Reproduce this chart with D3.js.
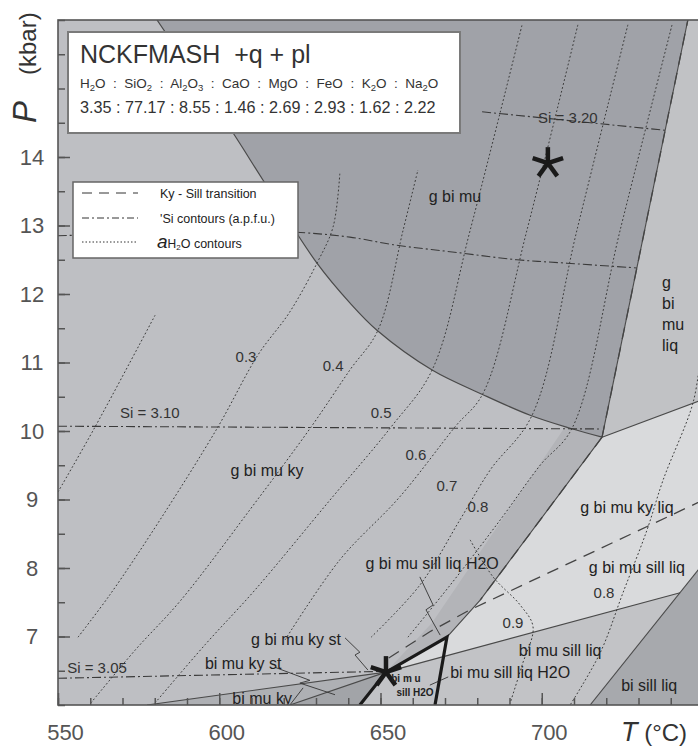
<!DOCTYPE html>
<html>
<head>
<meta charset="utf-8">
<script src="https://cdn.jsdelivr.net/npm/d3@7"></script>
<style>
  body { margin: 0; background: #fff; }
  svg { display: block; font-family: "Liberation Sans", Arial, sans-serif; }
</style>
</head>
<body>
<script>
// axis ticks
const tTicks = [550, 600, 650, 700];
const pTicks = [7, 8, 9, 10, 11, 12, 13, 14];

// bulk composition (mol %)
const oxides = ["H2O", "SiO2", "Al2O3", "CaO", "MgO", "FeO", "K2O", "Na2O"];
const oxideValues = ["3.35", "77.17", "8.55", "1.46", "2.69", "2.93", "1.62", "2.22"];

// field boundaries, [T (°C), P (kbar)]
const arcGBiMu = [[580.7, 16.0], [604.3, 14.35], [613.6, 13.66], [630.3, 12.45], [640.5, 11.87],
  [648.9, 11.47], [666.0, 10.89], [681.8, 10.53], [696.4, 10.23], [708.8, 10.04], [718.7, 9.91]];
const solidusTop = [745.3, 16.0];
const fieldBase = [[550, 6], [750, 6], [750, 16], [550, 16]];
const fieldGBiMuLiq = [[745.3, 16.0], [718.7, 9.91], [746.9, 10.41], [750, 10.46], [750, 16.0]];
const fieldLiqLight = [[718.7, 9.91], [750, 10.46], [750, 8.06], [742.9, 7.64], [651.7, 6.48], [670.6, 6.99], [680.9, 7.53]];
const fieldSillH2O = [[707.2, 10.06], [718.7, 9.91], [680.9, 7.53], [670.6, 6.99], [651.7, 6.48], [666.0, 7.20]];
const fieldBiMuSill = [[651.7, 6.48], [742.9, 7.64], [715.0, 6.0], [643.6, 6.0]];
const fieldBiSillLiq = [[715.0, 6.0], [742.9, 7.64], [750, 8.06], [750, 6.0]];
const fieldBiMuKy = [[577.6, 6.0], [651.7, 6.48], [643.6, 6.0]];
const fieldBiMuKySt = [[621.9, 6.0], [651.7, 6.48], [643.6, 6.0]];

const lineSolidusR = [[718.7, 9.91], [745.3, 16.0]];
const lineLiqTop = [[718.7, 9.91], [750, 10.46]];
const lineLiqLeft = [[718.7, 9.91], [680.9, 7.53], [670.6, 6.99]];
const lineLiqBottom = [[651.7, 6.48], [742.9, 7.64]];
const lineBiSill = [[715.0, 6.0], [750, 8.06]];
const lineKyA = [[577.6, 6.0], [651.7, 6.48]];
const lineKyB = [[621.9, 6.0], [651.7, 6.48]];

const pathMarked = [[643.6, 6.0], [651.7, 6.48], [670.6, 6.99], [666.9, 6.0]];
const kySill = [[750, 8.99], [677.8, 7.39], [665.3, 7.07], [651.7, 6.66]];

// Si isopleths
const si320 = [[681.5, 14.66], [738.2, 14.39]];
const si315 = [[550, 12.85], [618.8, 12.91], [640.5, 12.83], [653.9, 12.72], [674.7, 12.60],
  [692.3, 12.50], [707.8, 12.45], [729.5, 12.38]];
const si310 = [[550, 10.07], [718.1, 10.03]];
const si305 = [[550, 6.39], [649.8, 6.49]];

// aH2O contours
const aH2O = [
  [[550, 9.11], [561.5, 10.06], [580.1, 11.69]],
  [[556.2, 6.99], [566.1, 7.61], [581.6, 8.70], [599.6, 10.06], [612.0, 11.11], [621.9, 11.74], [630.3, 12.45], [635.3, 12.98], [637.4, 13.77]],
  [[560.2, 6.03], [573.9, 6.80], [588.1, 7.53], [609.5, 8.85], [628.5, 10.06], [640.5, 10.89], [649.2, 11.47], [657.0, 12.93], [661.6, 13.81]],
  [[580.1, 6.03], [595.6, 6.88], [611.1, 7.68], [634.3, 8.99], [653.3, 10.06], [666.0, 10.89], [677.8, 12.93], [693.9, 15.93]],
  [[620.4, 6.95], [637.4, 8.12], [656.0, 9.04], [673.1, 10.06], [681.8, 10.55], [695.4, 12.93], [711.2, 15.93]],
  [[647.1, 6.99], [662.2, 7.75], [674.6, 8.70], [684.0, 9.43], [697.0, 10.23], [710.9, 12.93], [726.7, 15.93]],
  [[658.5, 6.99], [671.6, 7.75], [687.1, 8.70], [699.5, 9.50], [709.4, 10.04], [724.3, 12.93], [740.4, 15.93]],
  [[749.1, 11.04], [746.9, 10.41], [737.6, 9.28], [732.6, 8.55], [725.2, 7.64], [718.1, 6.76], [708.8, 6.0]],
  [[677.8, 8.41], [684.9, 7.87], [693.3, 7.46], [697.3, 7.14], [693.9, 6.58], [690.2, 6.03]]
];
const aH2OLabels = ["0.3", "0.4", "0.5", "0.6", "0.7", "0.8", "0.8", "0.9"];
const aH2OLabelPos = [[608.3, 11.08], [635.3, 10.95], [650.2, 10.26], [661.0, 9.65], [670.6, 9.20],
  [680.2, 8.89], [719.3, 7.64], [691.1, 7.20]];

const siLabels = ["Si = 3.20", "Si = 3.10", "Si = 3.05"];
const siLabelPos = [[708.1, 14.58], [578.5, 10.26], [562.1, 6.54]];

const fieldNames = ["g bi mu", "g bi mu ky", "g bi mu ky liq", "g bi mu sill liq", "bi mu sill liq",
  "bi sill liq", "g bi mu sill liq H2O", "g bi mu ky st", "bi mu ky st", "bi mu ky"];
const fieldNamePos = [[673.1, 13.42], [614.8, 9.43], [726.4, 8.88], [729.5, 8.01], [705.7, 6.80],
  [733.3, 6.29], [666.0, 8.07], [623.8, 6.96], [607.4, 6.61], [613.3, 6.10]];

const leaders = [
  [[662.2, 7.87], [666.3, 7.46], [664.1, 7.39], [668.5, 7.02]],
  [[639.0, 6.98], [643.6, 6.77], [642.1, 6.73], [646.1, 6.51]],
  [[617.3, 6.55], [628.1, 6.36], [625.0, 6.32], [635.9, 6.15]],
  [[621.9, 6.0], [626.0, 6.25]],
  [[671.0, 6.41], [665.3, 6.29]]
];

const stars = [[701.9, 13.91], [651.7, 6.48]];

const W = 698, H = 747;
const x = d3.scaleLinear().domain([550, 750]).range([58, 703]);
const y = d3.scaleLinear().domain([6, 16]).range([705, 20]);

const svg = d3.select("body").append("svg").attr("width", W).attr("height", H);

svg.append("defs").append("clipPath").attr("id", "plot").append("rect")
  .attr("x", 58).attr("y", 20).attr("width", 645).attr("height", 685);

const plot = svg.append("g").attr("clip-path", "url(#plot)");

const straight = d3.line().x((d) => x(d[0])).y((d) => y(d[1]));
const smooth = d3.line().x((d) => x(d[0])).y((d) => y(d[1])).curve(d3.curveCatmullRom.alpha(0.5));

// fields
const fill = (pts, c) => plot.append("path").attr("d", straight(pts) + "Z").attr("fill", c);
fill(fieldBase, "#bebfc3");
plot.append("path")
  .attr("d", smooth(arcGBiMu) + `L${x(solidusTop[0])},${y(solidusTop[1])}Z`)
  .attr("fill", "#a0a2a8");
fill(fieldGBiMuLiq, "#c1c2c5");
fill(fieldSillH2O, "#b3b4b8");
fill(fieldLiqLight, "#d9dadc");
fill(fieldBiMuSill, "#c2c3c6");
fill(fieldBiSillLiq, "#a7a9ad");
fill(fieldBiMuKy, "#aeb0b4");
fill(fieldBiMuKySt, "#a2a4a8");

// boundaries
const stroke = (pts, w) => plot.append("path").attr("d", straight(pts)).attr("fill", "none")
  .attr("stroke", "#4a4a4a").attr("stroke-width", w || 1.1);
plot.append("path").attr("d", smooth(arcGBiMu)).attr("fill", "none")
  .attr("stroke", "#4a4a4a").attr("stroke-width", 1.2);
[lineSolidusR, lineLiqTop, lineLiqLeft, lineLiqBottom, lineBiSill, lineKyA, lineKyB].forEach((l) => stroke(l));

// aH2O contours
aH2O.forEach((c) => {
  plot.append("path").attr("d", smooth(c)).attr("fill", "none")
    .attr("stroke", "#3a3a3a").attr("stroke-width", 1).attr("stroke-dasharray", "1.8,2.2");
});

// Si isopleths
[si320, si315, si310, si305].forEach((l) => {
  plot.append("path").attr("d", smooth(l)).attr("fill", "none")
    .attr("stroke", "#3a3a3a").attr("stroke-width", 1.1).attr("stroke-dasharray", "9,3,2,3");
});

// ky - sill
[kySill, lineSolidusR, lineLiqLeft.slice(0, 2)].forEach((l) => {
  plot.append("path").attr("d", straight(l)).attr("fill", "none")
    .attr("stroke", "#444").attr("stroke-width", 1.3).attr("stroke-dasharray", "12,8");
});

// leaders
leaders.forEach((l) => {
  plot.append("path").attr("d", straight(l)).attr("fill", "none")
    .attr("stroke", "#333").attr("stroke-width", 0.9);
});

// P-T path
plot.append("path").attr("d", straight(pathMarked)).attr("fill", "none")
  .attr("stroke", "#1a1a1a").attr("stroke-width", 3.2).attr("stroke-linejoin", "miter");

// stars
stars.forEach((s) => {
  const g = plot.append("g").attr("transform", `translate(${x(s[0])},${y(s[1])})`);
  [-90, -18, 54, 126, 198].forEach((a) => {
    const r = (a * Math.PI) / 180;
    g.append("line").attr("x1", 0).attr("y1", 0)
      .attr("x2", 16 * Math.cos(r)).attr("y2", 16 * Math.sin(r))
      .attr("stroke", "#1a1a1a").attr("stroke-width", 4.5);
  });
});

// labels
const label = (txt, p, size, anchor) => plot.append("text")
  .attr("x", x(p[0])).attr("y", y(p[1])).attr("dy", "0.35em")
  .attr("text-anchor", anchor || "middle").attr("font-size", size)
  .attr("fill", "#222").text(txt);

aH2OLabels.forEach((t, i) => label(t, aH2OLabelPos[i], 15).attr("fill", "#333"));
siLabels.forEach((t, i) => label(t, siLabelPos[i], 15).attr("fill", "#333"));
fieldNames.forEach((t, i) => label(t, fieldNamePos[i], 16));
label("bi mu sill liq H2O", [671.6, 6.48], 16, "start");

const liqLabel = plot.append("text").attr("x", x(737.3)).attr("y", y(12.09))
  .attr("font-size", 16).attr("fill", "#222");
["g", "bi", "mu", "liq"].forEach((t, i) =>
  liqLabel.append("tspan").attr("x", x(737.3)).attr("dy", i ? 21 : 0).text(t));

label("bi m u", [657.9, 6.39], 10).attr("font-weight", "bold");
label("sill H2O", [660.7, 6.18], 10).attr("font-weight", "bold");

// axes
const axes = svg.append("g");
const xMinor = axes.append("g").attr("transform", "translate(0,705)")
  .call(d3.axisBottom(x).tickValues(d3.range(550, 751, 10)).tickSize(-7).tickFormat(""));
const xMajor = axes.append("g").attr("transform", "translate(0,705)")
  .call(d3.axisBottom(x).tickValues(tTicks).tickSize(-12).tickPadding(19));
const yMinor = axes.append("g").attr("transform", "translate(58,0)")
  .call(d3.axisLeft(y).tickValues(d3.range(6, 16.01, 0.5)).tickSize(-7).tickFormat(""));
const yMajor = axes.append("g").attr("transform", "translate(58,0)")
  .call(d3.axisLeft(y).tickValues(pTicks).tickSize(-12));

[xMinor, xMajor, yMinor, yMajor].forEach((g) => {
  g.select(".domain").remove();
  g.attr("font-family", null);
  g.selectAll("line").attr("stroke", "#555").attr("stroke-width", 1.5);
});
xMajor.selectAll("text").attr("font-size", 22).attr("fill", "#555").attr("dx", 7);
yMajor.selectAll("text").attr("font-size", 22).attr("fill", "#555")
  .attr("text-anchor", "middle").attr("x", -26);

axes.append("rect").attr("x", 58).attr("y", 20).attr("width", 645).attr("height", 685)
  .attr("fill", "none").attr("stroke", "#555").attr("stroke-width", 1.6);

const pLabel = svg.append("text").attr("transform", "translate(36,123) rotate(-90)")
  .attr("fill", "#333");
pLabel.append("tspan").attr("font-size", 33).attr("font-style", "italic").text("P");
pLabel.append("tspan").attr("x", 48).attr("font-size", 24).text("(kbar)");

const tLabel = svg.append("text").attr("x", 621).attr("y", 741).attr("fill", "#333");
tLabel.append("tspan").attr("font-size", 27).attr("font-style", "italic").text("T");
tLabel.append("tspan").attr("font-size", 24).text(" (°C)");

// title box
svg.append("rect").attr("x", 68).attr("y", 32).attr("width", 392).attr("height", 101)
  .attr("fill", "#fff").attr("stroke", "#7a7a7a").attr("stroke-width", 2);
svg.append("text").attr("x", 80).attr("y", 63).attr("font-size", 25).attr("fill", "#333")
  .attr("xml:space", "preserve").text("NCKFMASH  +q + pl");

const oxLine = svg.append("text").attr("x", 80).attr("y", 88).attr("font-size", 13.5)
  .attr("fill", "#333").attr("xml:space", "preserve");
let inSub = false;
const addSpan = (txt, sub) => {
  const t = oxLine.append("tspan").text(txt);
  if (sub) t.attr("font-size", 9.5);
  const dy = (sub ? 3 : 0) - (inSub ? 3 : 0);
  if (dy) t.attr("dy", dy);
  inSub = sub;
};
oxides.forEach((o, i) => {
  if (i) addSpan("  :  ", false);
  o.split(/(\d)/).filter((s) => s).forEach((s) => addSpan(s, /\d/.test(s)));
});

svg.append("text").attr("x", 80).attr("y", 113).attr("font-size", 16.2).attr("fill", "#333")
  .attr("xml:space", "preserve").text(oxideValues.join(" : "));

// legend
const lg = svg.append("g");
lg.append("rect").attr("x", 73).attr("y", 182).attr("width", 225).attr("height", 76)
  .attr("fill", "#fff").attr("stroke", "#666").attr("stroke-width", 1.5);
const legendDash = ["10,7", "7,3,2,3", "1.5,2"];
const legendY = [193, 218, 242];
legendY.forEach((ly, i) => {
  lg.append("line").attr("x1", 82).attr("x2", 138).attr("y1", ly).attr("y2", ly)
    .attr("stroke", "#333").attr("stroke-width", 1).attr("stroke-dasharray", legendDash[i]);
});
lg.append("text").attr("x", 160).attr("y", 198).attr("font-size", 12.5).attr("fill", "#222")
  .text("Ky - Sill transition");
lg.append("text").attr("x", 160).attr("y", 223).attr("font-size", 12.5).attr("fill", "#222")
  .text("'Si contours (a.p.f.u.)");
const aw = lg.append("text").attr("x", 157).attr("y", 248).attr("fill", "#222");
aw.append("tspan").attr("font-size", 19).attr("font-style", "italic").text("a");
aw.append("tspan").attr("font-size", 12).text("H");
aw.append("tspan").attr("font-size", 8).attr("dy", 2).text("2");
aw.append("tspan").attr("font-size", 12.5).attr("dy", -2).text("O contours");
</script>
</body>
</html>
